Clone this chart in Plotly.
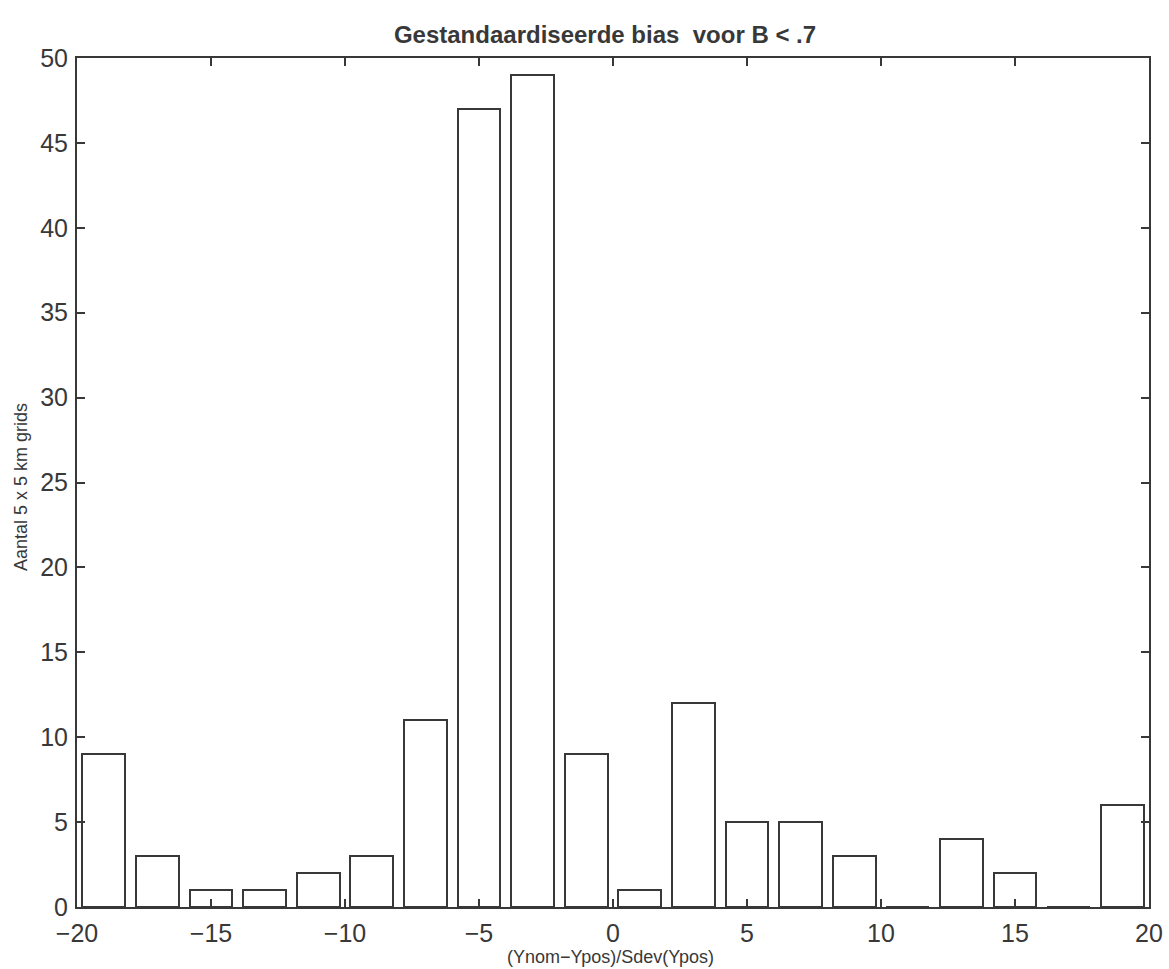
import plotly.graph_objects as go

# Bin centres of the histogram and counts per bin
bin_centers = [-19, -17, -15, -13, -11, -9, -7, -5, -3, -1, 1, 3, 5, 7, 9, 11, 13, 15, 17, 19]
counts = [9, 3, 1, 1, 2, 3, 11, 47, 49, 9, 1, 12, 5, 5, 3, 0, 4, 2, 0, 6]
x_ticks = [-20, -15, -10, -5, 0, 5, 10, 15, 20]
y_ticks = [0, 5, 10, 15, 20, 25, 30, 35, 40, 45, 50]

title_text = "<b>Gestandaardiseerde bias  voor B &lt; .7</b>"
x_label = "(Ynom\u2212Ypos)/Sdev(Ypos)"
y_label = "Aantal 5 x 5 km grids"

ink = "#383838"
font_family = "Liberation Sans, Arial, Helvetica, sans-serif"

# body margin is removed in the page, so figure coords == screen coords
W, H = 1169, 969
plot_left, plot_right = 77, 1149
plot_top, plot_bottom = 58, 907
L, R, T, B = plot_left, W - plot_right, plot_top, H - plot_bottom
plot_w = plot_right - plot_left
plot_h = plot_bottom - plot_top

fig = go.Figure()
fig.add_trace(go.Bar(
    x=bin_centers,
    y=counts,
    width=1.6,
    marker=dict(color="white", line=dict(color=ink, width=2)),
    showlegend=False,
    hoverinfo="x+y",
))

fig.update_layout(
    width=W,
    height=H,
    paper_bgcolor="white",
    plot_bgcolor="white",
    margin=dict(l=L, r=R, t=T, b=B, autoexpand=False),
    font=dict(family=font_family, color=ink),
    title=dict(
        text=title_text,
        x=605 / W, xanchor="center",
        y=1 - 35 / H, yanchor="middle",
        font=dict(size=24, color=ink, family=font_family),
    ),
    bargap=0,
    annotations=[
        dict(
            text=x_label, xref="paper", yref="paper",
            x=(610 - plot_left) / plot_w,
            y=-(957 - plot_bottom) / plot_h,
            xanchor="center", yanchor="middle", showarrow=False,
            font=dict(size=18, color=ink, family=font_family),
        ),
        dict(
            text=y_label, xref="paper", yref="paper",
            x=-(plot_left - 21) / plot_w,
            y=(plot_bottom - 487) / plot_h,
            xanchor="center", yanchor="middle", showarrow=False, textangle=-90,
            font=dict(size=18, color=ink, family=font_family),
        ),
    ],
)

fig.update_xaxes(
    range=[-20, 20],
    tickmode="array",
    tickvals=x_ticks,
    ticks="inside",
    ticklen=8,
    tickwidth=1.8,
    tickcolor=ink,
    showline=True,
    linecolor=ink,
    linewidth=2,
    mirror="ticks",
    showgrid=False,
    zeroline=False,
    automargin=False,
    ticklabeloverflow="allow",
    ticklabelstandoff=3,
    tickfont=dict(size=25, color=ink),
)
fig.update_yaxes(
    range=[0, 50],
    tickmode="array",
    tickvals=y_ticks,
    ticks="inside",
    ticklen=8,
    tickwidth=1.8,
    tickcolor=ink,
    showline=True,
    linecolor=ink,
    linewidth=2,
    mirror="ticks",
    showgrid=False,
    zeroline=False,
    automargin=False,
    ticklabeloverflow="allow",
    ticklabelstandoff=2,
    tickfont=dict(size=25, color=ink),
)

fig.write_html(
    "out.html",
    config={"displayModeBar": False},
    post_script="document.body.style.margin='0';document.body.style.overflow='hidden';",
)
